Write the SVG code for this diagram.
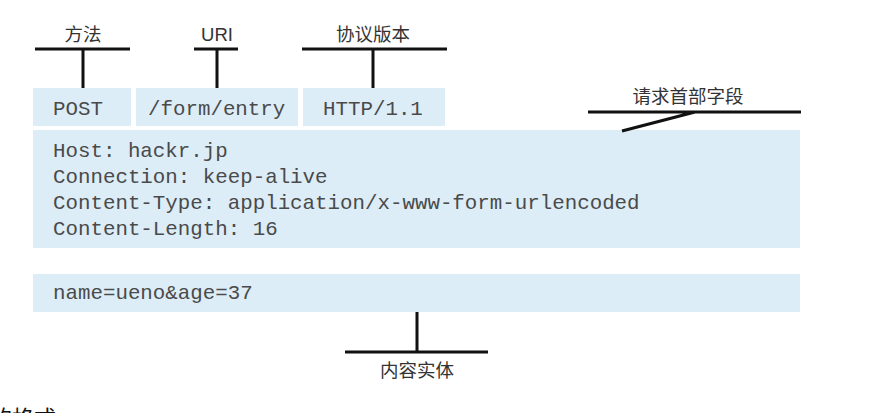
<svg xmlns="http://www.w3.org/2000/svg" width="896" height="413" viewBox="0 0 896 413">
<style>
.box{fill:#dcedf8}
.mono{font-family:"Liberation Mono","DejaVu Sans Mono",monospace;font-size:20.8px;fill:#4a4a4a}
.lbl{font-family:"Noto Sans CJK SC","Noto Sans",sans-serif;font-size:18.5px;fill:#333;text-anchor:middle}
.ln{stroke:#111;stroke-width:3;fill:none}
</style>
<rect width="896" height="413" fill="#fff"/>
<g id="method">
<rect class="box" x="33" y="88" width="98" height="38"/>
<text class="mono" x="53" y="115">POST</text>
</g>
<g id="uri">
<rect class="box" x="136" y="88" width="162" height="38"/>
<text class="mono" x="148" y="115">/form/entry</text>
</g>
<g id="version">
<rect class="box" x="303" y="88" width="142" height="38"/>
<text class="mono" x="323" y="115">HTTP/1.1</text>
</g>
<g id="headers">
<rect class="box" x="33" y="130" width="767" height="118"/>
<text class="mono" x="53" y="157">Host: hackr.jp</text>
<text class="mono" x="53" y="183">Connection: keep-alive</text>
<text class="mono" x="53" y="209">Content-Type: application/x-www-form-urlencoded</text>
<text class="mono" x="53" y="235">Content-Length: 16</text>
</g>
<g id="body">
<rect class="box" x="33" y="274" width="767" height="38"/>
<text class="mono" x="53" y="299">name=ueno&amp;age=37</text>
</g>
<g id="label-method">
<text class="lbl" x="83" y="41">方法</text>
</g>
<g id="label-uri">
<text class="lbl" x="217" y="41" style="font-family:'Liberation Sans',sans-serif">URI</text>
</g>
<g id="label-version">
<text class="lbl" x="373" y="41">协议版本</text>
</g>
<g id="label-headers">
<text class="lbl" x="688" y="103">请求首部字段</text>
</g>
<g id="label-body">
<text class="lbl" x="417" y="377">内容实体</text>
</g>
<g id="connectors">
<path class="ln" d="M35 49H130M83 49V88"/>
<path class="ln" d="M194 49H238M217 49V88"/>
<path class="ln" d="M302 49H447M373 49V88"/>
<path class="ln" d="M588 112H801M622 131L695 112"/>
<path class="ln" d="M345 352H488M417 312V352"/>
</g>
<text x="-10" y="426" style="font-family:'Noto Sans CJK SC',sans-serif;font-size:22px;fill:#111">的格式</text>
</svg>
